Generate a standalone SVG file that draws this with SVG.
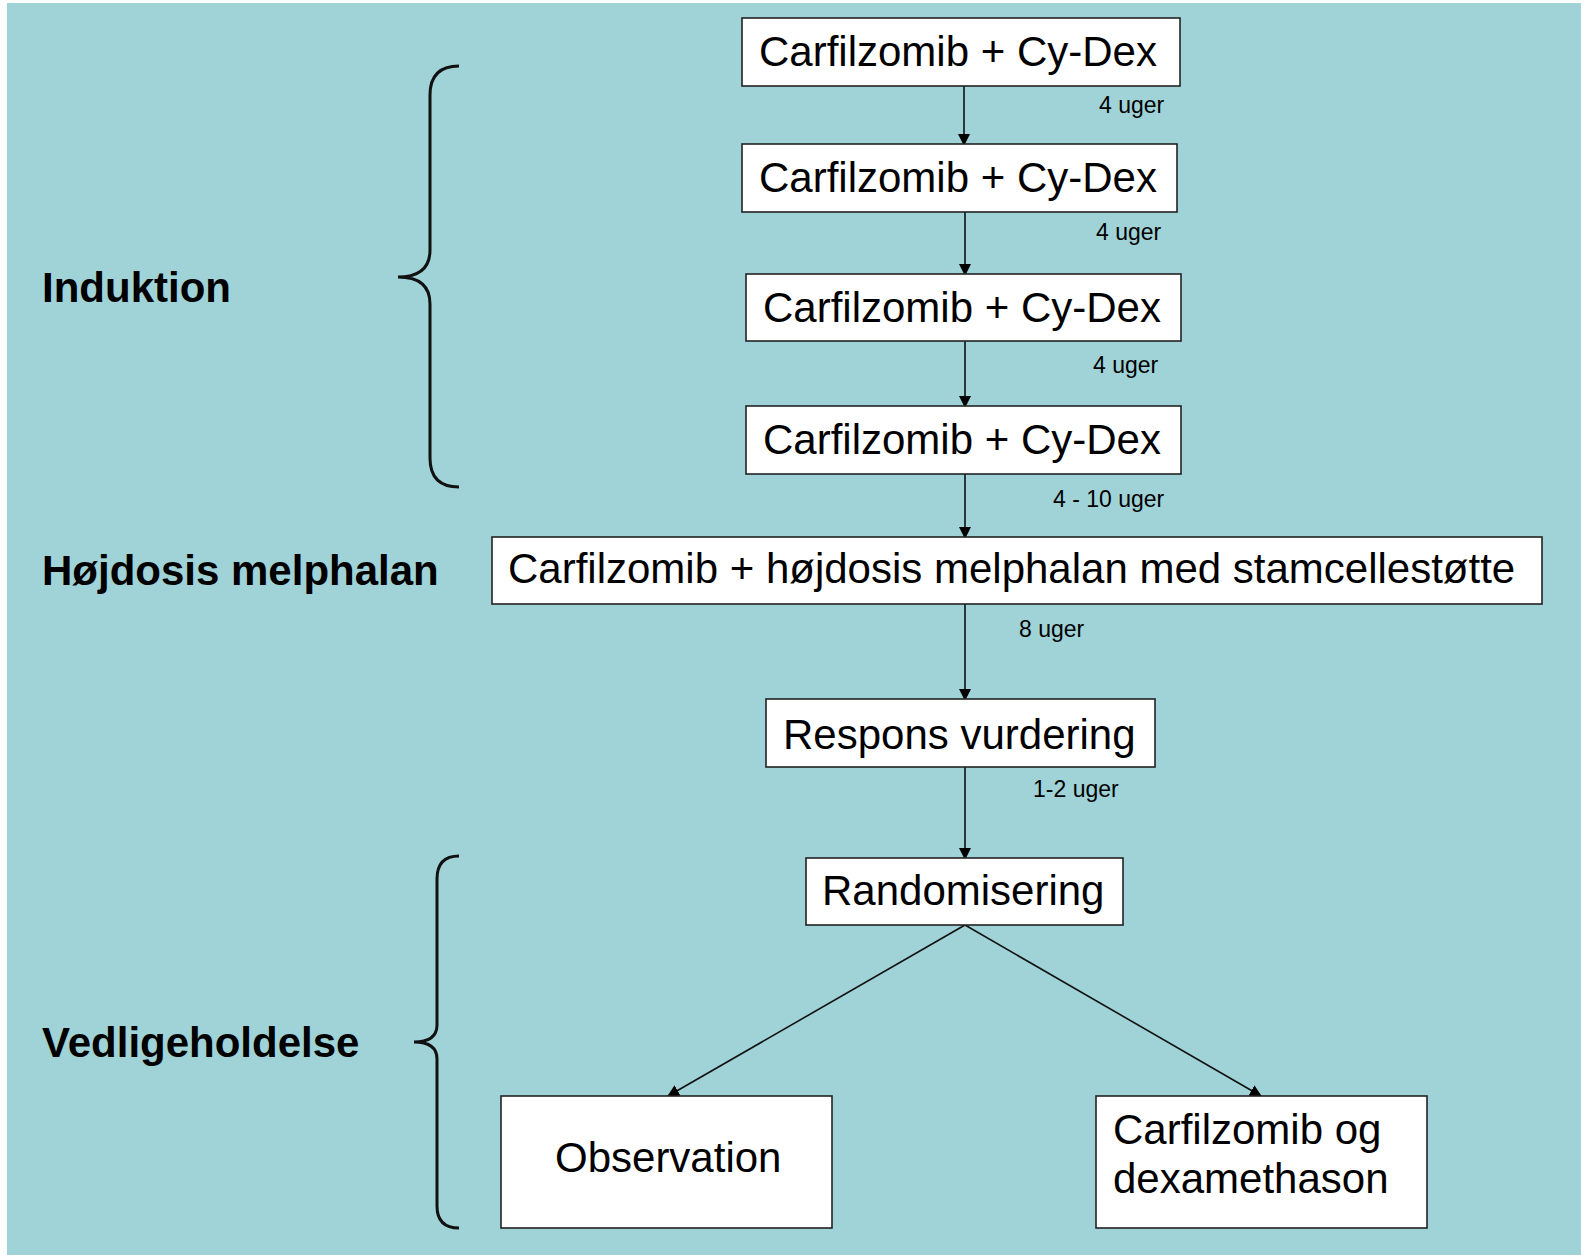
<svg xmlns="http://www.w3.org/2000/svg" width="1581" height="1255" viewBox="0 0 1581 1255">
<defs>
<style>
.box{fill:#ffffff;stroke:#222;stroke-width:1.6}
.t{font-family:"Liberation Sans",Arial,sans-serif;font-size:42px;fill:#000}
.lab{font-family:"Liberation Sans",Arial,sans-serif;font-size:42px;font-weight:bold;fill:#000}
.s{font-family:"Liberation Sans",Arial,sans-serif;font-size:23px;fill:#000}
.c{stroke:#111;stroke-width:1.6;fill:none;marker-end:url(#ah)}
.br{stroke:#111;stroke-width:3;fill:none}
</style>
<marker id="ah" markerWidth="12" markerHeight="12" refX="11" refY="6" orient="auto" markerUnits="userSpaceOnUse">
<path d="M0,0 L12,6 L0,12 Z" fill="#000"/>
</marker>
</defs>
<rect x="0" y="0" width="1581" height="1255" fill="#ffffff"/>
<rect x="7" y="3" width="1574" height="1252" fill="#9fd3d7"/>

<g id="connectors">
<line class="c" x1="964" y1="86" x2="964" y2="145"/>
<line class="c" x1="965" y1="212" x2="965" y2="275"/>
<line class="c" x1="965" y1="341" x2="965" y2="407"/>
<line class="c" x1="965" y1="474" x2="965" y2="538"/>
<line class="c" x1="965" y1="604" x2="965" y2="700"/>
<line class="c" x1="965" y1="767" x2="965" y2="859"/>
<line class="c" x1="965" y1="925" x2="668" y2="1096"/>
<line class="c" x1="965" y1="925" x2="1261" y2="1096"/>
<text class="s" x="1099" y="113">4 uger</text>
<text class="s" x="1096" y="240">4 uger</text>
<text class="s" x="1093" y="373">4 uger</text>
<text class="s" x="1053" y="507">4 - 10 uger</text>
<text class="s" x="1019" y="637">8 uger</text>
<text class="s" x="1033" y="797">1-2 uger</text>
</g>

<g id="brace-induktion">
<path class="br" d="M459,66 Q430,66 430,95 L430,250 Q430,277 398,277 Q430,277 430,304 L430,458 Q430,487 459,487"/>
</g>
<g id="brace-vedligeholdelse">
<path class="br" d="M459,856 Q437,856 437,879 L437,1025 Q437,1042 414,1042 Q437,1042 437,1059 L437,1206 Q437,1228 459,1228"/>
</g>

<g id="label-induktion"><text class="lab" x="42" y="302">Induktion</text></g>
<g id="label-hojdosis"><text class="lab" x="42" y="585">Højdosis melphalan</text></g>
<g id="label-vedligeholdelse"><text class="lab" x="42" y="1057">Vedligeholdelse</text></g>

<g id="node1"><rect class="box" x="742" y="18" width="438" height="68"/><text class="t" x="759" y="66">Carfilzomib + Cy-Dex</text></g>
<g id="node2"><rect class="box" x="742" y="144" width="435" height="68"/><text class="t" x="759" y="192">Carfilzomib + Cy-Dex</text></g>
<g id="node3"><rect class="box" x="746" y="274" width="435" height="67"/><text class="t" x="763" y="322">Carfilzomib + Cy-Dex</text></g>
<g id="node4"><rect class="box" x="746" y="406" width="435" height="68"/><text class="t" x="763" y="454">Carfilzomib + Cy-Dex</text></g>
<g id="node5"><rect class="box" x="492" y="537" width="1050" height="67"/><text class="t" x="508" y="583">Carfilzomib + højdosis melphalan med stamcellestøtte</text></g>
<g id="node6"><rect class="box" x="766" y="699" width="389" height="68"/><text class="t" x="783" y="749">Respons vurdering</text></g>
<g id="node7"><rect class="box" x="806" y="858" width="317" height="67"/><text class="t" x="822" y="905">Randomisering</text></g>
<g id="node8"><rect class="box" x="501" y="1096" width="331" height="132"/><text class="t" x="555" y="1172">Observation</text></g>
<g id="node9"><rect class="box" x="1096" y="1096" width="331" height="132"/><text class="t" x="1113" y="1144">Carfilzomib og</text><text class="t" x="1113" y="1193">dexamethason</text></g>
</svg>
